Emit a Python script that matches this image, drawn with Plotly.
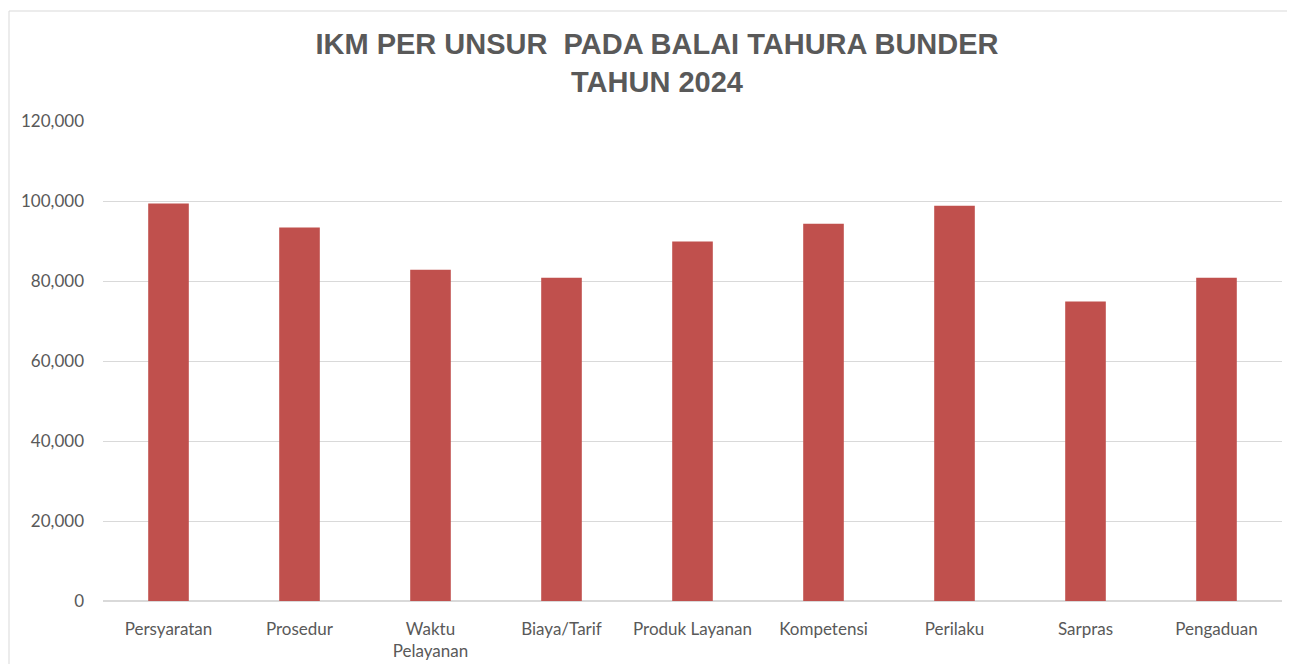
import plotly.graph_objects as go

categories = ["Persyaratan", "Prosedur", "Waktu<br>Pelayanan", "Biaya/Tarif", "Produk Layanan",
              "Kompetensi", "Perilaku", "Sarpras", "Pengaduan"]
values = [99400, 93400, 82800, 80800, 89900, 94300, 98800, 74900, 80800]
y_ticks = [0, 20000, 40000, 60000, 80000, 100000, 120000]
y_tick_labels = ["0", "20,000", "40,000", "60,000", "80,000", "100,000", "120,000"]

OFF = 8  # page body margin
W, H = 1295 - OFF, 664 - OFF
L, R, T, B = 103 - OFF, 13, 121 - OFF, 63
pw, ph = W - L - R, H - T - B

fig = go.Figure(go.Bar(x=categories, y=values, marker=dict(color="#C0504D", line=dict(width=0)),
                       width=0.31))

fig.update_layout(
    width=W, height=H,
    margin=dict(l=L, r=R, t=T, b=B, autoexpand=False),
    paper_bgcolor="white", plot_bgcolor="white",
    showlegend=False,
    title=dict(text="<b>IKM PER UNSUR  PADA BALAI TAHURA BUNDER<br>TAHUN 2024</b>",
               x=(657 - 103) / pw, xanchor="center", xref="paper",
               y=1 - (54 - OFF) / H, yanchor="middle",
               font=dict(family="Liberation Sans, Arial", size=29, color="#595959")),
    xaxis=dict(showgrid=False, showline=False, ticks="", ticklabelstandoff=16, automargin=False,
               tickfont=dict(family="Lato, Calibri, sans-serif", size=17, color="#595959"),
               tickangle=0),
    yaxis=dict(range=[0, 120000], tickvals=y_ticks, ticktext=y_tick_labels, automargin=False,
               showgrid=True, gridcolor="#D9D9D9", gridwidth=1, zeroline=True, zerolinecolor="#D9D9D9",
               showline=False, ticks="", ticklabelstandoff=18,
               tickfont=dict(family="Lato, Calibri, sans-serif", size=17, color="#595959")),
)

# chart border
fig.add_shape(type="rect", xref="paper", yref="paper",
              x0=(9 - 103) / pw, x1=(1295 + 20 - 103) / pw,
              y0=-(664 + 20 - 601) / ph, y1=(601 - 11) / ph,
              line=dict(color="#D9D9D9", width=1), fillcolor="rgba(0,0,0,0)", layer="below")

fig.write_html("out.html")
